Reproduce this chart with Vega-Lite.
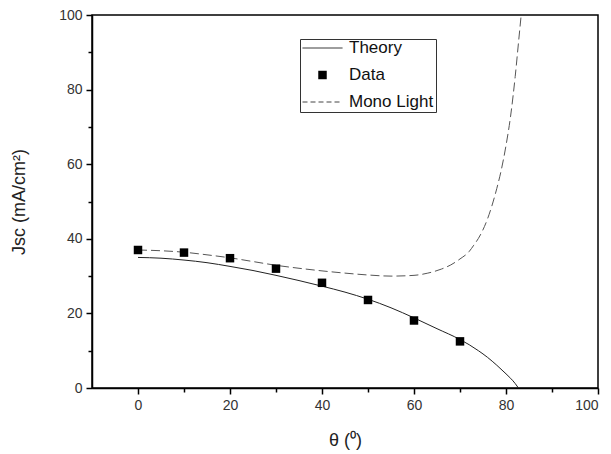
{
  "$schema": "https://vega.github.io/schema/vega-lite/v6.json",
  "width": 506,
  "height": 373,
  "autosize": {"type": "none"},
  "padding": {"left": 92, "top": 15, "right": 13, "bottom": 66},
  "background": "white",
  "config": {
    "view": {"stroke": "black", "strokeWidth": 1.5},
    "font": "Liberation Sans",
    "axis": {
      "domainColor": "black",
      "domainWidth": 1.5,
      "tickColor": "black",
      "tickWidth": 1.5,
      "grid": false,
      "labelFont": "Liberation Sans",
      "labelFontSize": 14,
      "labelColor": "#333",
      "titleFont": "Liberation Sans",
      "titleFontSize": 18,
      "titleFontWeight": "normal",
      "titleColor": "#222"
    }
  },
  "data": {
    "values": [
      {"series": "Theory", "x": 0, "y": 35.0},
      {"series": "Theory", "x": 5, "y": 34.8},
      {"series": "Theory", "x": 10, "y": 34.3},
      {"series": "Theory", "x": 15, "y": 33.6},
      {"series": "Theory", "x": 20, "y": 32.6},
      {"series": "Theory", "x": 25, "y": 31.5},
      {"series": "Theory", "x": 30, "y": 30.2},
      {"series": "Theory", "x": 35, "y": 28.8},
      {"series": "Theory", "x": 40, "y": 27.3},
      {"series": "Theory", "x": 45, "y": 25.7},
      {"series": "Theory", "x": 50, "y": 23.8},
      {"series": "Theory", "x": 55, "y": 21.5},
      {"series": "Theory", "x": 60, "y": 18.8},
      {"series": "Theory", "x": 65, "y": 15.9},
      {"series": "Theory", "x": 70, "y": 13.0},
      {"series": "Theory", "x": 72, "y": 11.6},
      {"series": "Theory", "x": 74, "y": 10.0},
      {"series": "Theory", "x": 76, "y": 8.2},
      {"series": "Theory", "x": 78, "y": 6.1},
      {"series": "Theory", "x": 80, "y": 3.8},
      {"series": "Theory", "x": 81, "y": 2.6},
      {"series": "Theory", "x": 82, "y": 1.2},
      {"series": "Theory", "x": 82.7, "y": 0},
      {"series": "Mono Light", "x": 0, "y": 37.0},
      {"series": "Mono Light", "x": 5, "y": 36.8},
      {"series": "Mono Light", "x": 10, "y": 36.4},
      {"series": "Mono Light", "x": 15, "y": 35.7},
      {"series": "Mono Light", "x": 20, "y": 34.9},
      {"series": "Mono Light", "x": 25, "y": 33.9},
      {"series": "Mono Light", "x": 30, "y": 32.9},
      {"series": "Mono Light", "x": 35, "y": 32.1},
      {"series": "Mono Light", "x": 40, "y": 31.4},
      {"series": "Mono Light", "x": 45, "y": 30.8},
      {"series": "Mono Light", "x": 50, "y": 30.3},
      {"series": "Mono Light", "x": 55, "y": 30.0},
      {"series": "Mono Light", "x": 60, "y": 30.2},
      {"series": "Mono Light", "x": 63, "y": 30.8},
      {"series": "Mono Light", "x": 66, "y": 31.9},
      {"series": "Mono Light", "x": 68, "y": 33.0},
      {"series": "Mono Light", "x": 70, "y": 34.6},
      {"series": "Mono Light", "x": 72, "y": 36.6},
      {"series": "Mono Light", "x": 73, "y": 38.3},
      {"series": "Mono Light", "x": 74, "y": 40.1},
      {"series": "Mono Light", "x": 76, "y": 45.4},
      {"series": "Mono Light", "x": 78, "y": 53.5},
      {"series": "Mono Light", "x": 79, "y": 58.6},
      {"series": "Mono Light", "x": 80, "y": 65.0},
      {"series": "Mono Light", "x": 81, "y": 72.9},
      {"series": "Mono Light", "x": 82, "y": 83.5},
      {"series": "Mono Light", "x": 82.7, "y": 92.4},
      {"series": "Mono Light", "x": 83.3, "y": 100},
      {"series": "Data", "x": 0, "y": 37.0},
      {"series": "Data", "x": 10, "y": 36.3},
      {"series": "Data", "x": 20, "y": 34.8},
      {"series": "Data", "x": 30, "y": 32.0},
      {"series": "Data", "x": 40, "y": 28.2},
      {"series": "Data", "x": 50, "y": 23.6},
      {"series": "Data", "x": 60, "y": 18.1},
      {"series": "Data", "x": 70, "y": 12.5}
    ]
  },
  "encoding": {
    "x": {
      "field": "x",
      "type": "quantitative",
      "scale": {"domain": [-10, 100], "nice": false, "zero": false},
      "axis": {
        "title": "θ (⁰)",
        "values": [0, 10, 20, 30, 40, 50, 60, 70, 80, 90, 100],
        "labelExpr": "datum.value % 20 === 0 ? datum.label : ''",
        "tickSize": {"condition": {"test": "datum.value % 20 === 0", "value": 6}, "value": 4},
        "labelPadding": 4,
        "titlePadding": 19
      }
    },
    "y": {
      "field": "y",
      "type": "quantitative",
      "scale": {"domain": [0, 100], "nice": false},
      "axis": {
        "title": "Jsc (mA/cm²)",
        "values": [0, 10, 20, 30, 40, 50, 60, 70, 80, 90, 100],
        "labelExpr": "datum.value % 20 === 0 ? datum.label : ''",
        "tickSize": {"condition": {"test": "datum.value % 20 === 0", "value": 6}, "value": 4},
        "labelPadding": 4,
        "titlePadding": 30
      }
    }
  },
  "layer": [
    {
      "transform": [{"filter": "datum.series === 'Theory'"}],
      "mark": {"type": "line", "strokeWidth": 1, "clip": true, "interpolate": "monotone", "color": "#222222"},
      "encoding": {}
    },
    {
      "transform": [{"filter": "datum.series === 'Mono Light'"}],
      "mark": {"type": "line", "strokeWidth": 1, "clip": true, "interpolate": "monotone", "color": "#555555", "strokeDash": [9, 4]},
      "encoding": {}
    },
    {
      "transform": [{"filter": "datum.series === 'Data'"}],
      "mark": {"type": "point", "filled": true, "opacity": 1},
      "encoding": {
        "shape": {
          "field": "series",
          "type": "nominal",
          "scale": {"domain": ["Theory", "Data", "Mono Light"], "range": ["stroke", "square", "stroke"]},
          "legend": {
            "title": null,
            "orient": "none",
            "legendX": 208,
            "legendY": 24,
            "strokeColor": "#333",
            "padding": 2,
            "clipHeight": 14,
            "symbolStrokeWidth": 1,
            "labelFontSize": 17,
            "labelFont": "Liberation Sans",
            "labelColor": "#111",
            "labelOffset": 6,
            "rowPadding": 10
          }
        },
        "fill": {
          "field": "series",
          "type": "nominal",
          "scale": {"domain": ["Theory", "Data", "Mono Light"], "range": ["transparent", "black", "transparent"]}
        },
        "stroke": {
          "field": "series",
          "type": "nominal",
          "scale": {"domain": ["Theory", "Data", "Mono Light"], "range": ["#222222", "transparent", "#444444"]}
        },
        "strokeDash": {
          "field": "series",
          "type": "nominal",
          "scale": {"domain": ["Theory", "Data", "Mono Light"], "range": [[1, 0], [1, 0], [5, 3]]}
        },
        "size": {
          "field": "series",
          "type": "nominal",
          "scale": {"type": "ordinal", "domain": ["Theory", "Data", "Mono Light"], "range": [1600, 72, 1600]}
        }
      }
    }
  ]
}
